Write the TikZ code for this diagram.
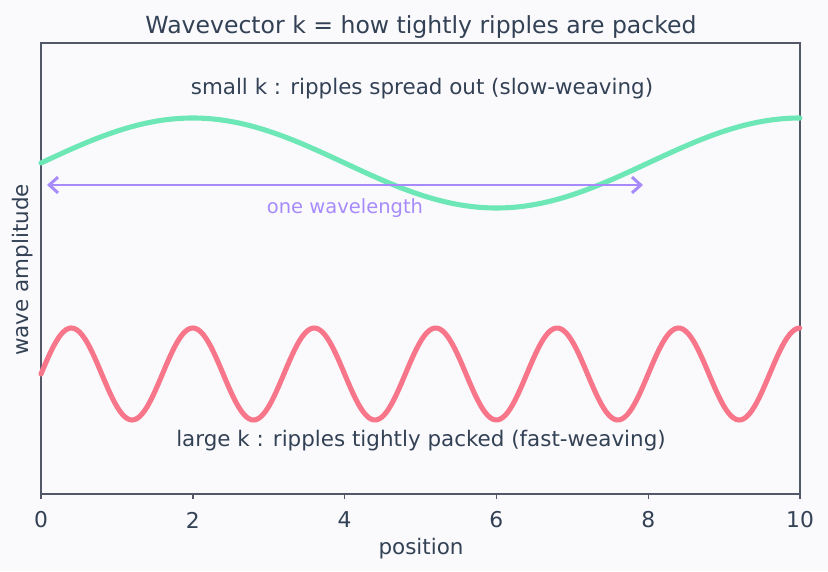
\documentclass[tikz,border=0pt]{standalone}
\usepackage{fontspec}
\setmainfont{DejaVu Sans}
\usepackage{tikz}
\usetikzlibrary{arrows.meta,positioning,calc}
\definecolor{Ink}{HTML}{334155}
\definecolor{Frame}{HTML}{525868}
\definecolor{Paper}{HTML}{FAFAFD}
\definecolor{Mint}{HTML}{6EE7B7}
\definecolor{Rose}{HTML}{F7768A}
\definecolor{Violet}{HTML}{A78BFA}

\begin{document}
\begin{tikzpicture}[font=\fontsize{12.2pt}{14pt}\selectfont, >={Straight Barb[length=5pt,width=9pt]}]
\tikzset{lbl/.style={text=Ink, inner sep=0pt}, ticklbl/.style={lbl, font=\fontsize{12.4pt}{14pt}\selectfont}, wave/.style={line width=2.9pt, line cap=round}}
\fill[Paper] (0,0) rectangle (16.56,11.42);
\useasboundingbox (0,0) rectangle (16.56,11.42);
% axes frame
\draw[Frame, line width=.8pt] (0.82,1.54) rectangle (16.0,10.56);
\foreach \k in {0,2,4,6,8,10} {
  \draw[Frame, line width=.8pt] ({0.82+1.518*\k},1.54) -- ++(0,-0.1);
  \node[ticklbl] (tick\k) at ({0.82+1.518*\k},1.02) {\k};
}
\node[lbl, font=\fontsize{13.4pt}{15pt}\selectfont] (title) at (8.42,10.88) {Wavevector k = how tightly ripples are packed};
\node[lbl] (xlab) at (8.42,0.44) {position};
\node[lbl, rotate=90] (ylab) at (0.46,6.02) {wave amplitude};
% the two waves
\draw[wave, Mint] plot[domain=0:10, samples=200] ({0.82+1.518*\x},{8.16+0.9*sin(45*\x)});
\draw[wave, Rose] plot[domain=0:10, samples=300] ({0.82+1.518*\x},{3.94+0.92*sin(225*\x)});
\node[lbl] (small) at (8.44,9.64) {small k : ripples spread out (slow-weaving)};
\node[lbl] (large) at (8.42,2.60) {large k : ripples tightly packed (fast-weaving)};
% wavelength marker
\coordinate (wlL) at (0.94,7.72);
\coordinate (wlR) at (12.86,7.72);
\draw[<->, Violet, line width=1.7pt] (wlL) -- (wlR);
\node[lbl, text=Violet, font=\fontsize{11.1pt}{13pt}\selectfont] (wl) at (6.9,7.26) {one wavelength};
\end{tikzpicture}
\end{document}
